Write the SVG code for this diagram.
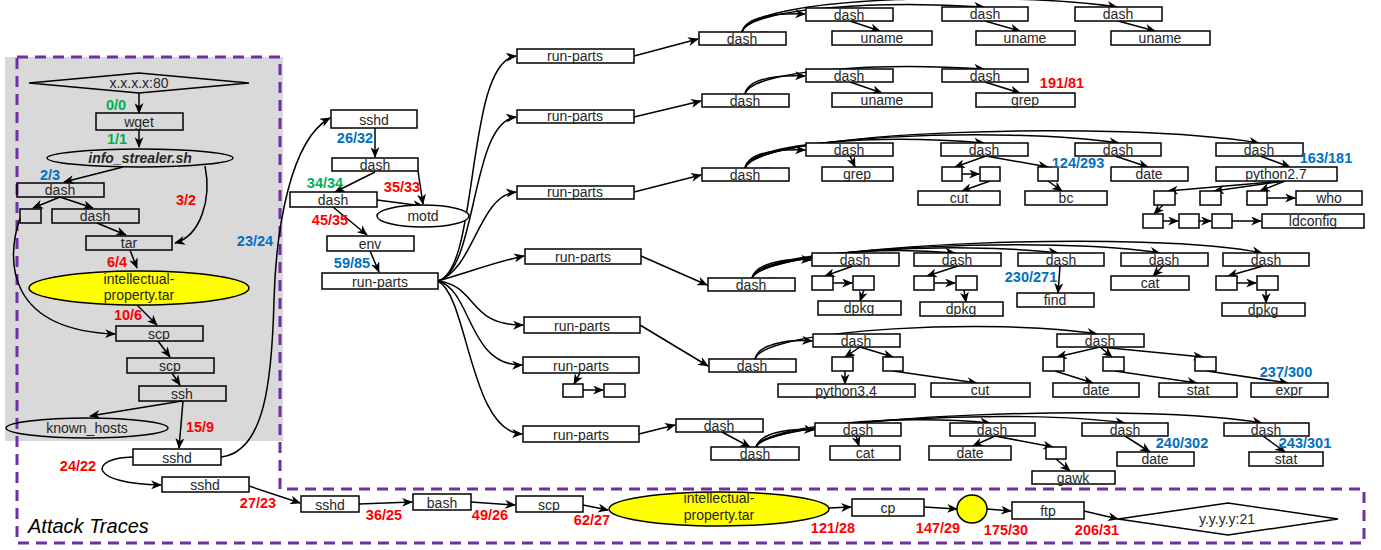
<svg xmlns="http://www.w3.org/2000/svg" width="1381" height="550" viewBox="0 0 1381 550">
<style>
.b{fill:#fff;stroke:#000;stroke-width:1.5}
.bn{fill:none;stroke:#000;stroke-width:1.5}
.y{fill:#ffff00;stroke:#000;stroke-width:1.5}
.t{font-family:"Liberation Sans",Arial,sans-serif;font-size:14px;text-anchor:middle;fill:#262626}
.l{font-family:"Liberation Sans",Arial,sans-serif;font-size:14.5px;font-weight:bold;text-anchor:middle}
.r{fill:#ff0000}.u{fill:#0070c0}.g{fill:#00b050}
.c{fill:none;stroke:#000;stroke-width:1.5;marker-end:url(#ah)}
.m{stroke:#5b9bd5;stroke-width:1.5}
.d{fill:none;stroke:#7030a0;stroke-width:3;stroke-dasharray:11 7}
</style>
<defs>
<marker id="ah" viewBox="0 0 12 10" refX="11" refY="5" markerWidth="11" markerHeight="9" markerUnits="userSpaceOnUse" orient="auto"><path d="M0,0 L12,5 L0,10 L3.5,5 z" fill="#000"/></marker>
</defs>
<rect x="0" y="0" width="1381" height="550" fill="#fff"/>
<rect x="5" y="57" width="278" height="384" fill="#d9d9d9"/>
<path class="d" d="M17,57 L280,57 L280,489 L1364,489 L1364,543 L17,543 Z"/>
<text x="28" y="533" font-family="Liberation Sans,Arial,sans-serif" font-size="20" font-style="italic" fill="#000">Attack Traces</text>

<g id="connectors">
<path class="c" d="M139,93 L139,113"/>
<path class="c" d="M139,130 L139,147"/>
<path class="c" d="M123,167 L64,182"/>
<path class="c" d="M205,166 C212,200 200,236 175,243"/>
<path class="c" d="M60,197 L33,208"/>
<path class="c" d="M60,197 L93,208"/>
<path class="c" d="M97,223 L126,235"/>
<path class="c" d="M130,250 L137,268"/>
<path class="c" d="M20,218 C5,262 8,330 115,334"/>
<path class="c" d="M137,305 L157,325"/>
<path class="c" d="M158,341 L170,357"/>
<path class="c" d="M172,373 L180,385"/>
<path class="c" d="M182,401 L90,416"/>
<path class="c" d="M183,401 L179,448"/>
<path class="c" d="M133,457 C88,458 88,484 161,485"/>
<path class="c" d="M221,457 C265,452 272,380 274,300 C276,230 290,140 330,118"/>
<path class="c" d="M375,128 L375,157"/>
<path class="c" d="M375,172 L335,192"/>
<path class="c" d="M418,171 L423,204"/>
<path class="c" d="M377,200 L423,206"/>
<path class="c" d="M333,207 L367,235"/>
<path class="c" d="M370,251 L379,272"/>
<path class="c" d="M438,281 C480,270 465,62 516,56"/>
<path class="c" d="M438,281 C478,270 470,122 516,117"/>
<path class="c" d="M438,281 C475,268 478,196 516,192"/>
<path class="c" d="M438,281 C470,272 495,262 524,256"/>
<path class="c" d="M438,281 C478,286 468,326 523,325"/>
<path class="c" d="M438,281 C472,290 468,366 522,365"/>
<path class="c" d="M438,281 C468,296 470,432 522,434"/>
<path class="c" d="M634,56 L698,39"/>
<path class="c" d="M742,32 C745,18 770,13 805,14"/>
<path class="c" d="M742,32 C750,8 880,0 984,7"/>
<path class="c" d="M742,32 C752,-6 1020,-8 1117,7"/>
<path class="c" d="M850,21 L880,31"/>
<path class="c" d="M985,21 L1020,31"/>
<path class="c" d="M1118,21 L1155,31"/>
<path class="c" d="M634,117 L701,101"/>
<path class="c" d="M745,94 C748,80 772,75 805,76"/>
<path class="c" d="M745,94 C752,70 880,62 984,69"/>
<path class="c" d="M850,82 L882,93"/>
<path class="c" d="M985,82 L1020,93"/>
<path class="c" d="M634,192 L701,175"/>
<path class="c" d="M745,168 C748,154 772,149 805,150"/>
<path class="c" d="M745,168 C752,142 880,134 984,143"/>
<path class="c" d="M745,168 C755,136 1000,126 1119,143"/>
<path class="c" d="M745,168 C758,130 1120,120 1259,143"/>
<path class="c" d="M850,156 L855,167"/>
<path class="c" d="M986,156 L955,167"/>
<path class="c" d="M986,156 L1048,167"/>
<path class="c" d="M962,174 L979,174"/>
<path class="c" d="M990,181 L962,191"/>
<path class="c" d="M1048,181 L1062,191"/>
<path class="c" d="M1115,156 L1148,167"/>
<path class="c" d="M1260,156 L1290,167"/>
<path class="c" d="M1285,181 L1168,191"/>
<path class="c" d="M1285,181 L1214,191"/>
<path class="c" d="M1285,181 L1260,191"/>
<path class="c" d="M1267,198 L1295,198"/>
<path class="c" d="M1163,205 L1154,214"/>
<path class="c" d="M1163,221 L1178,221"/>
<path class="c" d="M1199,221 L1211,221"/>
<path class="c" d="M1232,221 L1261,221"/>
<path class="c" d="M641,256 L707,285"/>
<path class="c" d="M752,278 C756,264 782,258 811,260"/>
<path class="c" d="M752,278 C760,255 880,246 955,253"/>
<path class="c" d="M752,278 C762,250 960,241 1058,253"/>
<path class="c" d="M752,278 C765,246 1060,236 1160,253"/>
<path class="c" d="M752,278 C768,242 1160,230 1262,253"/>
<path class="c" d="M853,266 L825,276"/>
<path class="c" d="M833,283 L852,283"/>
<path class="c" d="M864,290 L860,301"/>
<path class="c" d="M958,266 L927,276"/>
<path class="c" d="M934,283 L955,283"/>
<path class="c" d="M964,290 L966,302"/>
<path class="c" d="M1060,266 L1058,293"/>
<path class="c" d="M1163,266 L1153,276"/>
<path class="c" d="M1263,266 L1228,276"/>
<path class="c" d="M1237,283 L1256,283"/>
<path class="c" d="M1266,290 L1266,303"/>
<path class="c" d="M640,325 L708,366"/>
<path class="c" d="M755,359 C758,345 785,339 812,341"/>
<path class="c" d="M755,359 C765,328 1000,318 1097,334"/>
<path class="c" d="M860,347 L845,357"/>
<path class="c" d="M860,347 L893,357"/>
<path class="c" d="M845,371 L845,384"/>
<path class="c" d="M893,371 L977,383"/>
<path class="c" d="M1100,347 L1057,357"/>
<path class="c" d="M1100,347 L1112,357"/>
<path class="c" d="M1100,347 L1203,357"/>
<path class="c" d="M1055,371 L1093,383"/>
<path class="c" d="M1115,371 L1197,383"/>
<path class="c" d="M1207,371 L1288,383"/>
<path class="c" d="M580,373 L574,384"/>
<path class="c" d="M583,390 L603,390"/>
<path class="c" d="M639,434 L675,425"/>
<path class="c" d="M722,432 L750,447"/>
<path class="c" d="M756,447 C760,433 788,428 814,430"/>
<path class="c" d="M756,447 C765,425 900,414 990,423"/>
<path class="c" d="M756,447 C768,420 1020,408 1125,423"/>
<path class="c" d="M756,447 C770,415 1150,402 1262,423"/>
<path class="c" d="M856,436 L859,446"/>
<path class="c" d="M995,436 L973,446"/>
<path class="c" d="M995,436 L1053,447"/>
<path class="c" d="M1056,459 L1070,471"/>
<path class="c" d="M1125,436 L1150,452"/>
<path class="c" d="M1263,436 L1285,452"/>
<path class="c" d="M249,486 L300,503"/>
<path class="c" d="M359,504 L412,502"/>
<path class="c" d="M471,502 L515,505"/>
<path class="c" d="M583,505 L608,510"/>
<path class="c" d="M829,508 L851,507"/>
<path class="c" d="M924,507 L957,509"/>
<path class="c" d="M987,509 L1011,511"/>
<path class="c" d="M1084,511 L1118,519"/>
<line class="m" x1="760" y1="32" x2="768" y2="32"/>
<line class="m" x1="762" y1="94" x2="770" y2="94"/>
<line class="m" x1="762" y1="168" x2="770" y2="168"/>
<line class="m" x1="768" y1="278" x2="777" y2="278"/>
<line class="m" x1="769" y1="359" x2="778" y2="359"/>
<line class="m" x1="771" y1="447" x2="780" y2="447"/>
</g>

<g id="src"><polygon class="bn" points="29,83 139,73 249,83 139,93"/><text class="t" x="139" y="88">x.x.x.x:80</text></g>
<g id="wget"><rect class="bn" x="96" y="113" width="87" height="17"/><text class="t" x="139" y="127">wget</text></g>
<g id="info"><ellipse class="bn" cx="140" cy="158" rx="93" ry="9"/><text class="t" x="140" y="163" font-weight="bold" font-style="italic">info_strealer.sh</text></g>
<g id="ldash1"><rect class="bn" x="17" y="183" width="87" height="14"/><text class="t" x="60" y="195">dash</text></g>
<g id="lsmall"><rect class="bn" x="20" y="209" width="21" height="14"/></g>
<g id="ldash2"><rect class="bn" x="52" y="209" width="87" height="14"/><text class="t" x="95" y="221">dash</text></g>
<g id="tar"><rect class="bn" x="86" y="236" width="86" height="14"/><text class="t" x="129" y="248">tar</text></g>
<g id="ip1"><ellipse class="y" cx="139" cy="288" rx="110" ry="17"/><text class="t" x="139" y="284">intellectual-</text><text class="t" x="139" y="300">property.tar</text></g>
<g id="scp1"><rect class="bn" x="116" y="326" width="87" height="15"/><text class="t" x="159" y="339">scp</text></g>
<g id="scp2"><rect class="bn" x="127" y="358" width="87" height="15"/><text class="t" x="170" y="371">scp</text></g>
<g id="ssh"><rect class="bn" x="139" y="386" width="87" height="15"/><text class="t" x="182" y="399">ssh</text></g>
<g id="known"><ellipse class="bn" cx="87" cy="428" rx="81" ry="10"/><text class="t" x="87" y="433">known_hosts</text></g>
<g id="sshd1"><rect class="b" x="133" y="449" width="88" height="16"/><text class="t" x="177" y="463">sshd</text></g>
<g id="sshd2"><rect class="b" x="162" y="477" width="87" height="15"/><text class="t" x="205" y="490">sshd</text></g>

<g id="msshd"><rect class="b" x="331" y="110" width="86" height="18"/><text class="t" x="374" y="125">sshd</text></g>
<g id="mdash1"><rect class="b" x="332" y="158" width="86" height="13"/><text class="t" x="375" y="170">dash</text></g>
<g id="mdash2"><rect class="b" x="290" y="192" width="87" height="15"/><text class="t" x="333" y="205">dash</text></g>
<g id="motd"><ellipse class="b" cx="423" cy="216" rx="46" ry="11"/><text class="t" x="423" y="221">motd</text></g>
<g id="env"><rect class="b" x="327" y="236" width="87" height="15"/><text class="t" x="370" y="249">env</text></g>
<g id="rp0"><rect class="b" x="322" y="273" width="116" height="16"/><text class="t" x="380" y="287">run-parts</text></g>

<g id="rp1"><rect class="b" x="517" y="49" width="117" height="14"/><text class="t" x="575" y="61">run-parts</text></g>
<g id="rp2"><rect class="b" x="517" y="110" width="117" height="13"/><text class="t" x="575" y="121">run-parts</text></g>
<g id="rp3"><rect class="b" x="517" y="186" width="117" height="13"/><text class="t" x="575" y="197">run-parts</text></g>
<g id="rp4"><rect class="b" x="525" y="249" width="116" height="15"/><text class="t" x="583" y="262">run-parts</text></g>
<g id="rp5"><rect class="b" x="524" y="317" width="116" height="16"/><text class="t" x="582" y="331">run-parts</text></g>
<g id="rp6"><rect class="b" x="523" y="357" width="116" height="16"/><text class="t" x="581" y="371">run-parts</text></g>
<g id="rp6s1"><rect class="b" x="563" y="384" width="20" height="13"/></g>
<g id="rp6s2"><rect class="b" x="604" y="384" width="21" height="13"/></g>
<g id="rp7"><rect class="b" x="523" y="426" width="116" height="16"/><text class="t" x="581" y="440">run-parts</text></g>

<g id="d1"><rect class="b" x="699" y="32" width="87" height="13"/><text class="t" x="742" y="44">dash</text></g>
<g id="d1a"><rect class="b" x="806" y="8" width="87" height="13"/><text class="t" x="849" y="20">dash</text></g>
<g id="u1a"><rect class="b" x="832" y="31" width="100" height="14"/><text class="t" x="882" y="43">uname</text></g>
<g id="d1b"><rect class="b" x="942" y="7" width="86" height="14"/><text class="t" x="985" y="19">dash</text></g>
<g id="u1b"><rect class="b" x="976" y="31" width="99" height="14"/><text class="t" x="1025" y="43">uname</text></g>
<g id="d1c"><rect class="b" x="1075" y="7" width="87" height="14"/><text class="t" x="1118" y="19">dash</text></g>
<g id="u1c"><rect class="b" x="1111" y="31" width="99" height="14"/><text class="t" x="1160" y="43">uname</text></g>

<g id="d2"><rect class="b" x="702" y="94" width="87" height="13"/><text class="t" x="745" y="106">dash</text></g>
<g id="d2a"><rect class="b" x="806" y="69" width="87" height="13"/><text class="t" x="849" y="81">dash</text></g>
<g id="u2a"><rect class="b" x="832" y="93" width="100" height="14"/><text class="t" x="882" y="105">uname</text></g>
<g id="d2b"><rect class="b" x="942" y="69" width="86" height="13"/><text class="t" x="985" y="81">dash</text></g>
<g id="g2b"><rect class="b" x="976" y="93" width="99" height="14"/><text class="t" x="1025" y="105">grep</text></g>

<g id="d3"><rect class="b" x="702" y="168" width="87" height="13"/><text class="t" x="745" y="180">dash</text></g>
<g id="d3a"><rect class="b" x="806" y="143" width="87" height="13"/><text class="t" x="849" y="155">dash</text></g>
<g id="g3a"><rect class="b" x="822" y="167" width="71" height="14"/><text class="t" x="857" y="179">grep</text></g>
<g id="d3b"><rect class="b" x="941" y="143" width="87" height="13"/><text class="t" x="984" y="155">dash</text></g>
<g id="s3b1"><rect class="b" x="942" y="167" width="20" height="14"/></g>
<g id="s3b2"><rect class="b" x="980" y="167" width="20" height="14"/></g>
<g id="cut3"><rect class="b" x="918" y="191" width="82" height="14"/><text class="t" x="959" y="203">cut</text></g>
<g id="s3b3"><rect class="b" x="1038" y="167" width="20" height="14"/></g>
<g id="bc"><rect class="b" x="1025" y="191" width="82" height="14"/><text class="t" x="1066" y="203">bc</text></g>
<g id="d3c"><rect class="b" x="1075" y="143" width="86" height="13"/><text class="t" x="1118" y="155">dash</text></g>
<g id="date3"><rect class="b" x="1111" y="167" width="77" height="14"/><text class="t" x="1149" y="179">date</text></g>
<g id="d3d"><rect class="b" x="1216" y="143" width="87" height="13"/><text class="t" x="1259" y="155">dash</text></g>
<g id="py27"><rect class="b" x="1216" y="167" width="121" height="14"/><text class="t" x="1276" y="179">python2.7</text></g>
<g id="s3d1"><rect class="b" x="1154" y="191" width="21" height="14"/></g>
<g id="s3d2"><rect class="b" x="1200" y="191" width="21" height="14"/></g>
<g id="s3d3"><rect class="b" x="1247" y="191" width="20" height="14"/></g>
<g id="who"><rect class="b" x="1296" y="191" width="66" height="14"/><text class="t" x="1329" y="203">who</text></g>
<g id="s3e1"><rect class="b" x="1143" y="214" width="20" height="14"/></g>
<g id="s3e2"><rect class="b" x="1179" y="214" width="20" height="14"/></g>
<g id="s3e3"><rect class="b" x="1212" y="214" width="20" height="14"/></g>
<g id="ldconfig"><rect class="b" x="1262" y="214" width="102" height="14"/><text class="t" x="1313" y="226">ldconfig</text></g>

<g id="d4"><rect class="b" x="708" y="278" width="87" height="13"/><text class="t" x="751" y="290">dash</text></g>
<g id="d4a"><rect class="b" x="812" y="253" width="87" height="13"/><text class="t" x="855" y="265">dash</text></g>
<g id="s4a1"><rect class="b" x="812" y="276" width="21" height="14"/></g>
<g id="s4a2"><rect class="b" x="853" y="276" width="21" height="14"/></g>
<g id="dpkg4a"><rect class="b" x="818" y="301" width="83" height="14"/><text class="t" x="859" y="313">dpkg</text></g>
<g id="d4b"><rect class="b" x="914" y="253" width="87" height="13"/><text class="t" x="957" y="265">dash</text></g>
<g id="s4b1"><rect class="b" x="914" y="276" width="20" height="14"/></g>
<g id="s4b2"><rect class="b" x="956" y="276" width="21" height="14"/></g>
<g id="dpkg4b"><rect class="b" x="920" y="302" width="83" height="14"/><text class="t" x="961" y="314">dpkg</text></g>
<g id="d4c"><rect class="b" x="1018" y="253" width="86" height="13"/><text class="t" x="1061" y="265">dash</text></g>
<g id="find"><rect class="b" x="1017" y="293" width="77" height="14"/><text class="t" x="1055" y="305">find</text></g>
<g id="d4d"><rect class="b" x="1121" y="253" width="87" height="13"/><text class="t" x="1164" y="265">dash</text></g>
<g id="cat4"><rect class="b" x="1111" y="276" width="78" height="14"/><text class="t" x="1150" y="288">cat</text></g>
<g id="d4e"><rect class="b" x="1223" y="253" width="86" height="13"/><text class="t" x="1266" y="265">dash</text></g>
<g id="s4e1"><rect class="b" x="1216" y="276" width="21" height="14"/></g>
<g id="s4e2"><rect class="b" x="1257" y="276" width="21" height="14"/></g>
<g id="dpkg4e"><rect class="b" x="1222" y="303" width="83" height="13"/><text class="t" x="1263" y="315">dpkg</text></g>

<g id="d5"><rect class="b" x="709" y="359" width="87" height="13"/><text class="t" x="752" y="371">dash</text></g>
<g id="d5a"><rect class="b" x="813" y="334" width="87" height="13"/><text class="t" x="856" y="346">dash</text></g>
<g id="s5a1"><rect class="b" x="832" y="357" width="21" height="14"/></g>
<g id="s5a2"><rect class="b" x="883" y="357" width="20" height="14"/></g>
<g id="py34"><rect class="b" x="778" y="384" width="137" height="13"/><text class="t" x="846" y="396">python3.4</text></g>
<g id="cut5"><rect class="b" x="931" y="383" width="99" height="14"/><text class="t" x="980" y="395">cut</text></g>
<g id="d5b"><rect class="b" x="1057" y="334" width="87" height="13"/><text class="t" x="1100" y="346">dash</text></g>
<g id="s5b1"><rect class="b" x="1043" y="357" width="21" height="14"/></g>
<g id="s5b2"><rect class="b" x="1103" y="357" width="21" height="14"/></g>
<g id="s5b3"><rect class="b" x="1195" y="357" width="21" height="14"/></g>
<g id="date5"><rect class="b" x="1053" y="383" width="86" height="14"/><text class="t" x="1096" y="395">date</text></g>
<g id="stat5"><rect class="b" x="1159" y="383" width="78" height="14"/><text class="t" x="1198" y="395">stat</text></g>
<g id="expr"><rect class="b" x="1251" y="383" width="77" height="14"/><text class="t" x="1289" y="395">expr</text></g>

<g id="d6a"><rect class="b" x="676" y="419" width="87" height="13"/><text class="t" x="719" y="431">dash</text></g>
<g id="d6"><rect class="b" x="711" y="447" width="88" height="13"/><text class="t" x="755" y="459">dash</text></g>
<g id="d6x"><rect class="b" x="815" y="423" width="86" height="13"/><text class="t" x="858" y="435">dash</text></g>
<g id="cat6"><rect class="b" x="830" y="446" width="70" height="14"/><text class="t" x="865" y="458">cat</text></g>
<g id="d6b"><rect class="b" x="950" y="423" width="85" height="13"/><text class="t" x="992" y="435">dash</text></g>
<g id="date6a"><rect class="b" x="929" y="446" width="82" height="14"/><text class="t" x="970" y="458">date</text></g>
<g id="s6b"><rect class="b" x="1046" y="447" width="20" height="12"/></g>
<g id="gawk"><rect class="b" x="1032" y="471" width="83" height="13"/><text class="t" x="1073" y="483">gawk</text></g>
<g id="d6c"><rect class="b" x="1082" y="423" width="86" height="13"/><text class="t" x="1125" y="435">dash</text></g>
<g id="date6b"><rect class="b" x="1117" y="452" width="77" height="14"/><text class="t" x="1155" y="464">date</text></g>
<g id="d6d"><rect class="b" x="1224" y="423" width="85" height="13"/><text class="t" x="1266" y="435">dash</text></g>
<g id="stat6"><rect class="b" x="1249" y="452" width="74" height="14"/><text class="t" x="1286" y="464">stat</text></g>

<g id="sshd3"><rect class="b" x="301" y="496" width="58" height="16"/><text class="t" x="330" y="510">sshd</text></g>
<g id="bash"><rect class="b" x="413" y="494" width="58" height="16"/><text class="t" x="442" y="508">bash</text></g>
<g id="scp3"><rect class="b" x="516" y="496" width="67" height="16"/><text class="t" x="549" y="510">scp</text></g>
<g id="ip2"><ellipse class="y" cx="719" cy="509" rx="110" ry="17"/><text class="t" x="719" y="503">intellectual-</text><text class="t" x="719" y="520">property.tar</text></g>
<g id="cp"><rect class="b" x="852" y="499" width="72" height="17"/><text class="t" x="888" y="513">cp</text></g>
<g id="circ"><ellipse class="y" cx="972" cy="509" rx="15" ry="14"/></g>
<g id="ftp"><rect class="b" x="1012" y="502" width="72" height="17"/><text class="t" x="1048" y="516">ftp</text></g>
<g id="dst"><polygon class="b" points="1118,519 1228,503 1338,519 1228,535"/><text class="t" x="1227" y="524">y.y.y.y:21</text></g>

<g id="labels">
<text class="l g" x="116" y="110">0/0</text>
<text class="l g" x="117" y="144">1/1</text>
<text class="l u" x="50" y="180">2/3</text>
<text class="l r" x="186" y="205">3/2</text>
<text class="l r" x="117" y="267">6/4</text>
<text class="l r" x="128" y="320">10/6</text>
<text class="l r" x="200" y="432">15/9</text>
<text class="l r" x="78" y="471">24/22</text>
<text class="l r" x="258" y="508">27/23</text>
<text class="l u" x="255" y="246">23/24</text>
<text class="l u" x="355" y="143">26/32</text>
<text class="l g" x="325" y="188">34/34</text>
<text class="l r" x="402" y="192">35/33</text>
<text class="l r" x="330" y="225">45/35</text>
<text class="l u" x="352" y="268">59/85</text>
<text class="l r" x="1062" y="88">191/81</text>
<text class="l u" x="1078" y="168">124/293</text>
<text class="l u" x="1326" y="163">163/181</text>
<text class="l u" x="1031" y="282">230/271</text>
<text class="l u" x="1286" y="377">237/300</text>
<text class="l u" x="1182" y="448">240/302</text>
<text class="l u" x="1305" y="448">243/301</text>
<text class="l r" x="384" y="520">36/25</text>
<text class="l r" x="490" y="520">49/26</text>
<text class="l r" x="592" y="525">62/27</text>
<text class="l r" x="833" y="533">121/28</text>
<text class="l r" x="938" y="533">147/29</text>
<text class="l r" x="1006" y="535">175/30</text>
<text class="l r" x="1097" y="535">206/31</text>
</g>
</svg>
